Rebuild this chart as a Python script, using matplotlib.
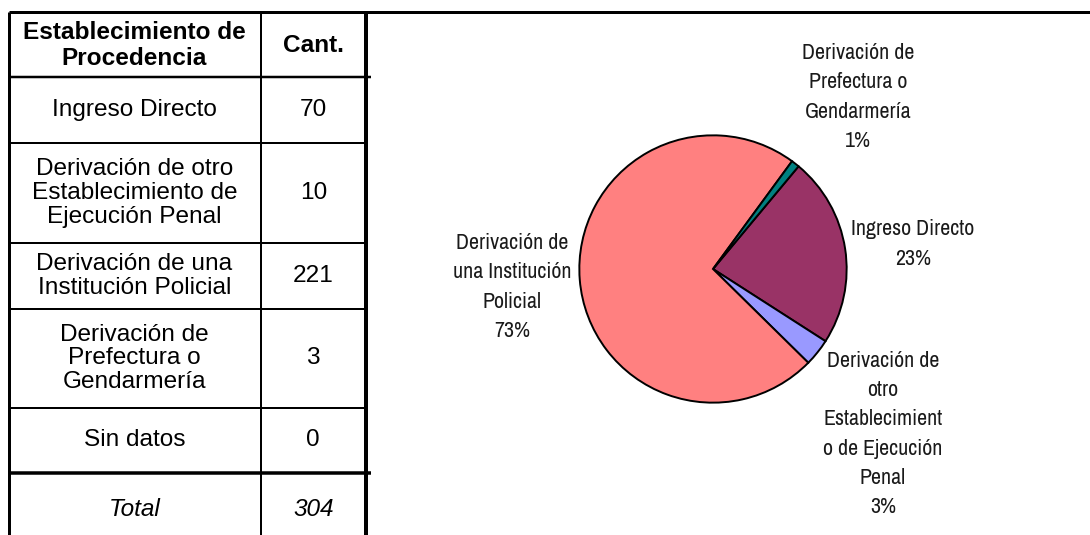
import matplotlib
matplotlib.use("Agg")
import matplotlib.pyplot as plt
from matplotlib import font_manager

# --- data ---------------------------------------------------------------
categories = ["Ingreso Directo",
              "Derivación de otro\nEstablecimiento de\nEjecución Penal",
              "Derivación de una\nInstitución Policial",
              "Derivación de\nPrefectura o\nGendarmería",
              "Sin datos"]
counts = [70, 10, 221, 3, 0]
header = ["Establecimiento de\nProcedencia", "Cant."]
total_label = "Total"
# pie labels as Excel wrapped them
pie_names = ["Ingreso Directo",
             "Derivación de\notro\nEstablecimient\no de Ejecución\nPenal",
             "Derivación de\nuna Institución\nPolicial",
             "Derivación de\nPrefectura o\nGendarmería",
             "Sin datos"]
pie_colors = ["#993366", "#9999FF", "#FF8080", "#008080", "#FFFFCC"]

# --- layout (pixels) ----------------------------------------------------
W, H = 1090, 535
X_L, X_MID, X_R = 8.5, 260.5, 366
ROWS = [11.5, 77, 143, 243, 309, 408, 473, 535]   # header, 5 rows, total
PIE_C, PIE_R = (713, 269), 135
LABEL_POS = [(913, 244), (883, 434), (512, 287), (858, 97), None]

avail = {f.name for f in font_manager.fontManager.ttflist}
TAB_FONT = "Liberation Sans" if "Liberation Sans" in avail else "DejaVu Sans"
LAB_FONT = next((n for n in ("Liberation Sans Narrow", "Archivo Narrow", "Roboto Condensed")
                 if n in avail), TAB_FONT)

fig = plt.figure(figsize=(W / 100, H / 100), dpi=100)
bg = fig.add_axes([0, 0, 1, 1])
bg.set_xlim(0, W); bg.set_ylim(H, 0); bg.axis("off")

px = 0.72  # px -> pt
# table frame
bg.plot([X_L, W], [ROWS[0], ROWS[0]], color="black", lw=3 * px, solid_capstyle="butt")
bg.plot([X_L, X_L], [ROWS[0], H], color="black", lw=3 * px, solid_capstyle="butt")
bg.plot([X_R, X_R], [ROWS[0], H], color="black", lw=4 * px, solid_capstyle="butt")
bg.plot([X_MID, X_MID], [ROWS[0], H], color="black", lw=2 * px, solid_capstyle="butt")
for i, y in enumerate(ROWS[1:-1]):
    thick = 3.5 if i == len(ROWS) - 3 else (2.5 if i == 0 else 2)
    x2 = X_R + 5 if i in (0, len(ROWS) - 3) else X_R
    bg.plot([X_L, x2], [y, y], color="black", lw=thick * px, solid_capstyle="butt")

fs = 17.6
ls = 1.1
xc1, xc2 = (X_L + X_MID) / 2, (X_MID + X_R) / 2
yc = [(ROWS[i] + ROWS[i + 1]) / 2 for i in range(len(ROWS) - 1)]
bg.text(xc1, yc[0] + 1, header[0], ha="center", va="center", fontsize=fs, fontweight="bold",
        family=TAB_FONT, linespacing=1.18)
bg.text(xc2, yc[0] + 1, header[1], ha="center", va="center", fontsize=fs, fontweight="bold",
        family=TAB_FONT)
for i, (cat, n) in enumerate(zip(categories, counts)):
    bg.text(xc1, yc[i + 1], cat, ha="center", va="center", fontsize=fs, family=TAB_FONT,
            linespacing=ls)
    bg.text(xc2, yc[i + 1], str(n), ha="center", va="center", fontsize=fs, family=TAB_FONT)
bg.text(xc1, yc[-1] + 5, total_label, ha="center", va="center", fontsize=fs, style="italic",
        family=TAB_FONT)
bg.text(xc2, yc[-1] + 5, str(sum(counts)), ha="center", va="center", fontsize=fs,
        style="italic", family=TAB_FONT)

# --- pie ----------------------------------------------------------------
cx, cy = PIE_C
pax = fig.add_axes([(cx - PIE_R) / W, (H - cy - PIE_R) / H, 2 * PIE_R / W, 2 * PIE_R / H])
keep = [i for i, v in enumerate(counts) if v > 0]
pax.pie([counts[i] for i in keep], colors=[pie_colors[i] for i in keep],
        startangle=50.2, counterclock=False, radius=1.0,
        wedgeprops=dict(edgecolor="black", linewidth=1.4))
pax.set_xlim(-1.01, 1.01); pax.set_ylim(-1.01, 1.01)
pax.set_aspect("equal"); pax.axis("off")

tot = sum(counts)
for i in keep:
    lx, ly = LABEL_POS[i]
    pct = round(100 * counts[i] / tot)
    bg.text(lx, ly, f"{pie_names[i]}\n{pct}%", ha="center", va="center", fontsize=15.8,
            family=LAB_FONT, color="#1a1a1a", linespacing=1.58)

fig.savefig("out.png", dpi=100)
